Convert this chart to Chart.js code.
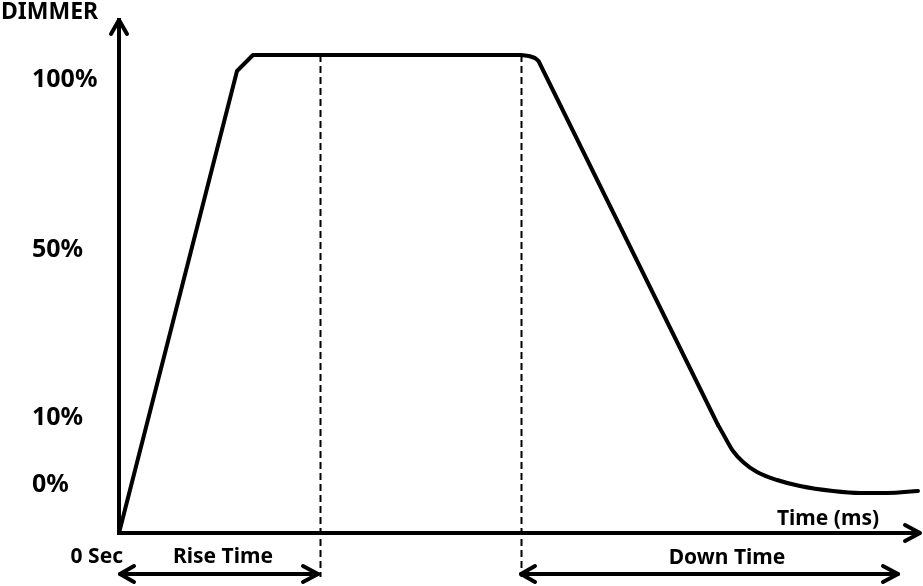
<!DOCTYPE html>
<html>
<head>
<meta charset="utf-8">
<script src="https://cdn.jsdelivr.net/npm/chart.js@4.4.1/dist/chart.umd.min.js"></script>
<style>
    html, body { margin: 0; padding: 0; background: #fff; }
    #wrap { width: 923px; height: 586px; position: relative; }
</style>
</head>
<body>
<div id="wrap"><canvas id="dimmerChart"></canvas></div>
<script>
// 時間軸（任意単位）と調光レベル（任意単位）
const rampTime  = [0, 118, 134, 402, 410, 416, 419.5, 421, 599];
const rampLevel = [0, 462, 478, 478, 477, 475, 472, 469, 108];

const tailTime  = [599, 603, 608, 614, 624, 638, 658, 681, 714, 741, 768, 799];
const tailLevel = [108, 101, 92, 82, 71, 61, 53, 47, 42, 40, 40, 42];

// 縦軸の目盛り
const levelTicks  = [48, 115, 283, 453];
const levelLabels = ['0%', '10%', '50%', '100%'];

// 破線のマーカー位置と矢印の範囲
const markTimes  = [201, 402];
const plateau    = 478;
const riseSpan   = [1, 199];
const downSpan   = [402, 779];

const axisLabelY = 'DIMMER';
const axisLabelX = 'Time (ms)';
const startLabel = '0 Sec';
const riseLabel  = 'Rise Time';
const downLabel  = 'Down Time';

const FONT = '"Noto Sans", "DejaVu Sans", sans-serif';

const toPoints = (xs, ys) => xs.map((t, i) => ({ x: t, y: ys[i] }));

function chevron(ctx, x, y, dir) {
    ctx.beginPath();
    if (dir === 'up') {
        ctx.moveTo(x - 8, y + 14); ctx.lineTo(x, y); ctx.lineTo(x + 8, y + 14);
    } else if (dir === 'right') {
        ctx.moveTo(x - 15, y - 8); ctx.lineTo(x, y); ctx.lineTo(x - 15, y + 8);
    } else {
        ctx.moveTo(x + 14, y - 8); ctx.lineTo(x, y); ctx.lineTo(x + 14, y + 8);
    }
    ctx.stroke();
}

const extras = {
    id: 'extras',
    afterDraw(chart) {
        const { ctx, chartArea: area, scales: { x, y } } = chart;
        ctx.save();
        ctx.strokeStyle = '#000';
        ctx.fillStyle = '#000';
        ctx.lineCap = 'round';
        ctx.lineJoin = 'round';

        // 軸の矢印
        ctx.lineWidth = 4;
        chevron(ctx, area.left, area.top, 'up');
        chevron(ctx, area.right, area.bottom, 'right');

        const arrowY = area.bottom + 41;

        // 破線
        ctx.lineWidth = 2;
        ctx.lineCap = 'butt';
        ctx.setLineDash([7, 4]);
        markTimes.forEach(t => {
            const px = Math.round(x.getPixelForValue(t)) + 0.5;
            ctx.beginPath();
            ctx.moveTo(px, y.getPixelForValue(plateau));
            ctx.lineTo(px, arrowY + 3);
            ctx.stroke();
        });
        ctx.setLineDash([]);

        // 両矢印
        ctx.lineWidth = 4;
        ctx.lineCap = 'round';
        [riseSpan, downSpan].forEach(span => {
            const x1 = x.getPixelForValue(span[0]);
            const x2 = x.getPixelForValue(span[1]);
            ctx.beginPath();
            ctx.moveTo(x1, arrowY);
            ctx.lineTo(x2, arrowY);
            ctx.stroke();
            chevron(ctx, x1, arrowY, 'left');
            chevron(ctx, x2, arrowY, 'right');
        });

        // ラベル
        ctx.textBaseline = 'alphabetic';
        ctx.font = 'bold 23px ' + FONT;
        ctx.textAlign = 'left';
        ctx.fillText(axisLabelY, 1, 19);

        ctx.font = 'bold 21px ' + FONT;
        ctx.textAlign = 'right';
        ctx.fillText(startLabel, x.getPixelForValue(0) + 4, area.bottom + 30);
        ctx.textAlign = 'center';
        ctx.fillText(riseLabel, x.getPixelForValue(104), area.bottom + 30);
        ctx.fillText(downLabel, x.getPixelForValue(608), area.bottom + 31);
        ctx.fillText(axisLabelX, x.getPixelForValue(709), area.bottom - 8);
        ctx.restore();
    }
};

Chart.defaults.font.family = FONT;

new Chart(document.getElementById('dimmerChart'), {
    type: 'line',
    data: {
        datasets: [{
            data: toPoints(rampTime, rampLevel),
            borderColor: '#000',
            borderWidth: 4,
            tension: 0,
            pointRadius: 0,
            borderJoinStyle: 'round',
            borderCapStyle: 'round',
            clip: false
        }, {
            data: toPoints(tailTime, tailLevel),
            borderColor: '#000',
            borderWidth: 4,
            cubicInterpolationMode: 'monotone',
            pointRadius: 0,
            borderCapStyle: 'round',
            clip: false
        }]
    },
    options: {
        responsive: true,
        maintainAspectRatio: false,
        animation: false,
        layout: { padding: { left: 32, top: 20, right: 3, bottom: 0 } },
        plugins: {
            legend: { display: false },
            tooltip: { enabled: false }
        },
        scales: {
            x: {
                type: 'linear',
                min: 0,
                max: 801,
                ticks: { display: false },
                grid: { display: false, drawTicks: false },
                border: { color: '#000', width: 4 },
                afterFit: s => { s.height = 53; }
            },
            y: {
                min: 0,
                max: 513,
                afterBuildTicks: s => { s.ticks = levelTicks.map(v => ({ value: v })); },
                afterFit: s => { s.width = 87; },
                ticks: {
                    crossAlign: 'far',
                    color: '#000',
                    autoSkip: false,
                    font: { size: 25, weight: 'bold' },
                    callback: (v, i) => levelLabels[i]
                },
                grid: { display: false, drawTicks: false },
                border: { color: '#000', width: 4 }
            }
        }
    },
    plugins: [extras]
});
</script>
</body>
</html>
